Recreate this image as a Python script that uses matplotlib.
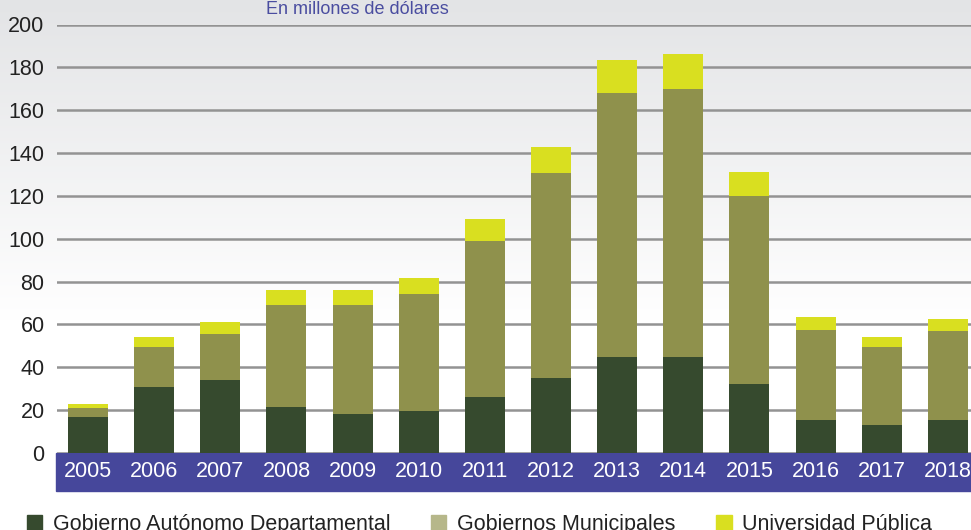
import matplotlib
matplotlib.use("Agg")
import matplotlib.pyplot as plt
import numpy as np
from matplotlib.patches import Patch, Rectangle

years = ["2005", "2006", "2007", "2008", "2009", "2010", "2011", "2012",
         "2013", "2014", "2015", "2016", "2017", "2018"]
gobierno_departamental = [17, 31, 34, 21.5, 18, 19.5, 26, 35, 45, 45, 32, 15.5, 13, 15.5]
gobiernos_municipales = [4, 18.5, 21.5, 47.5, 51, 54.5, 73, 95.5, 123, 125, 88, 42, 36.5, 41.5]
universidad_publica = [2, 4.5, 5.5, 7, 7, 7.5, 10, 12.5, 15.5, 16, 11, 6, 4.5, 5.5]
series_names = ["Gobierno Autónomo Departamental", "Gobiernos Municipales", "Universidad Pública"]
title = "En millones de dólares"

FONT = ["Liberation Sans Narrow", "Liberation Sans", "DejaVu Sans"]
plt.rcParams["font.family"] = FONT
FS = 15.5

W, H = 971, 530
fig = plt.figure(figsize=(W / 100, H / 100), dpi=100)

# background gradient
bg = fig.add_axes([0, 0, 1, 1], zorder=-10)
n = 530
t = np.clip(np.arange(n) / 320.0, 0, 1)
top = np.array([0xe3, 0xe4, 0xe6]) / 255.0
col = top[None, :] * (1 - t[:, None]) + np.ones(3)[None, :] * t[:, None]
img = np.repeat(col[:, None, :], 2, axis=1)
bg.imshow(img, aspect="auto", extent=[0, 1, 0, 1], origin="upper")
bg.set_axis_off()

left = 57 / W
bottom = (H - 453) / H
topy = (H - 24.5) / H
ax = fig.add_axes([left, bottom, 1 - left, topy - bottom])
ax.set_facecolor("none")

x = np.arange(len(years))
w = 0.605
c_dark = "#364a2e"
c_olive = "#8f914c"
c_yellow = "#d9df20"
d = np.array(gobierno_departamental)
m = np.array(gobiernos_municipales)
u = np.array(universidad_publica)
ax.bar(x, d, w, color=c_dark, zorder=3)
ax.bar(x, m, w, bottom=d, color=c_olive, zorder=3)
ax.bar(x, u, w, bottom=d + m, color=c_yellow, zorder=3)

ax.set_xlim(-0.47, 13.35)
ax.set_ylim(0, 200)
ax.set_yticks(np.arange(0, 201, 20))
ax.yaxis.grid(True, color="#939393", linewidth=1.8, zorder=1)
ax.set_axisbelow(True)
for s in ax.spines.values():
    s.set_visible(False)
ax.tick_params(axis="y", length=0, pad=9, labelsize=FS, labelcolor="#222222")
ax.set_xticks(x)
ax.set_xticklabels(years)
ax.tick_params(axis="x", length=0, pad=5.5, labelsize=FS, labelcolor="white")

# purple band behind year labels
band = Rectangle((56 / W, (H - 491) / H), 1 - 56 / W, 38 / H,
                 transform=fig.transFigure, color="#46479b", zorder=-5)
fig.patches.append(band)

fig.text(357 / W, 1 - 14 / H, title, ha="center", va="baseline",
         fontsize=13, color="#4a4da0")

handles = [Patch(color=c_dark), Patch(color="#b6b78a"), Patch(color=c_yellow)]
fig.legend(handles, series_names, loc="lower left", bbox_to_anchor=(27 / W, -5 / H),
           ncol=3, frameon=False, fontsize=FS, handlelength=0.7, handleheight=0.7,
           handletextpad=0.5, columnspacing=1.9, labelcolor="#222222",
           borderaxespad=0, borderpad=0)

fig.savefig("out.png", dpi=100)
